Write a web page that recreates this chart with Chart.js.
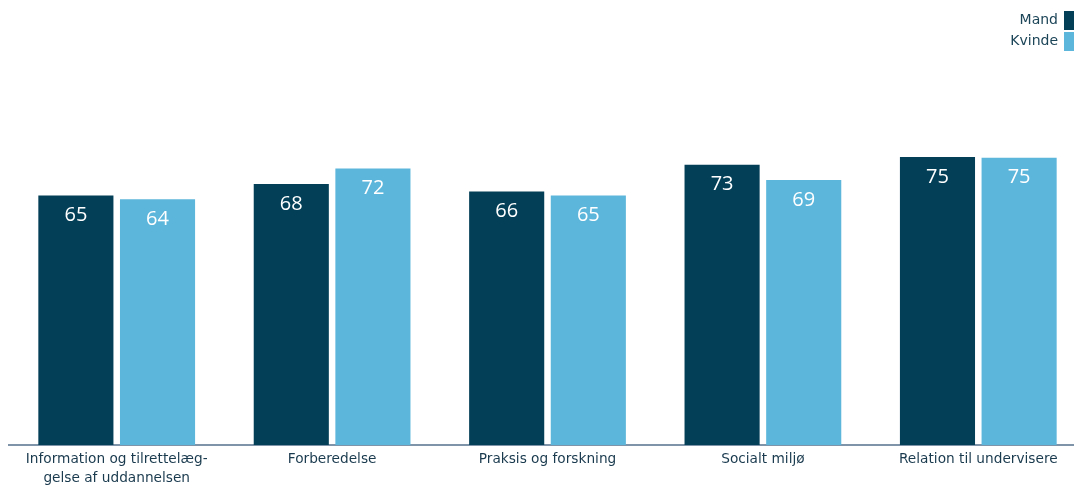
<!DOCTYPE html>
<html>
<head>
<meta charset="utf-8">
<script src="https://cdn.jsdelivr.net/npm/chart.js@4.4.1/dist/chart.umd.min.js"></script>
<style>
  html, body { margin: 0; padding: 0; background: #fff; overflow: hidden; }
  #wrap { width: 1074px; height: 488px; overflow: hidden; }
</style>
</head>
<body>
<div id="wrap"><canvas id="myChart" width="1086" height="488"></canvas></div>
<script>
// Data
const categories = [
  ['Information og tilrettelæg-', 'gelse af uddannelsen'],
  'Forberedelse',
  'Praksis og forskning',
  'Socialt miljø',
  'Relation til undervisere'
];
const seriesNames = ['Mand', 'Kvinde'];
const mandValues = [65, 68, 66, 73, 75];
const kvindeValues = [64, 72, 65, 69, 74.8];
const colors = ['#033f57', '#5cb6db'];

// white value labels inside the top of each bar
const valueLabels = {
  id: 'valueLabels',
  afterDatasetsDraw(chart) {
    const ctx = chart.ctx;
    ctx.save();
    ctx.fillStyle = '#ffffff';
    ctx.font = '20px "Open Sans"';
    ctx.textAlign = 'center';
    ctx.textBaseline = 'middle';
    chart.data.datasets.forEach((ds, i) => {
      chart.getDatasetMeta(i).data.forEach((bar, j) => {
        ctx.fillText(Math.round(ds.data[j]), bar.x, bar.y + 20);
      });
    });
    ctx.restore();
  }
};

// legend top right: text, then square on the right
const rightLegend = {
  id: 'rightLegend',
  afterDraw(chart) {
    const ctx = chart.ctx;
    const right = 1074;
    ctx.save();
    ctx.font = '14px "DejaVu Sans"';
    ctx.textAlign = 'right';
    ctx.textBaseline = 'middle';
    chart.data.datasets.forEach((ds, i) => {
      const top = 11 + i * 21;
      ctx.fillStyle = ds.backgroundColor;
      ctx.fillRect(right - 10, top, 10, 19);
      ctx.fillStyle = '#1c4558';
      ctx.fillText(ds.label, right - 16, top + 9.5);
    });
    ctx.restore();
  }
};

const ctx = document.getElementById('myChart').getContext('2d');
new Chart(ctx, {
  type: 'bar',
  data: {
    labels: categories,
    datasets: [
      { label: seriesNames[0], data: mandValues, backgroundColor: colors[0] },
      { label: seriesNames[1], data: kvindeValues, backgroundColor: colors[1] }
    ]
  },
  options: {
    responsive: false,
    animation: false,
    datasets: {
      bar: { categoryPercentage: 0.758, barPercentage: 0.92 }
    },
    layout: { padding: { left: 9, top: 61, right: 0, bottom: 0 } },
    scales: {
      y: {
        display: false,
        min: 0,
        max: 100
      },
      x: {
        grid: { display: false, drawTicks: false },
        border: { display: true, color: '#7f93a9', width: 2 },
        ticks: {
          color: '#1a3a4e',
          padding: 5,
          maxRotation: 0,
          autoSkip: false,
          font: { family: 'DejaVu Sans', size: 13.7, lineHeight: 1.4 }
        },
        afterFit(scale) { scale.height = 43; }
      }
    },
    plugins: {
      legend: { display: false },
      tooltip: { enabled: false }
    }
  },
  plugins: [valueLabels, rightLegend]
});
</script>
</body>
</html>
